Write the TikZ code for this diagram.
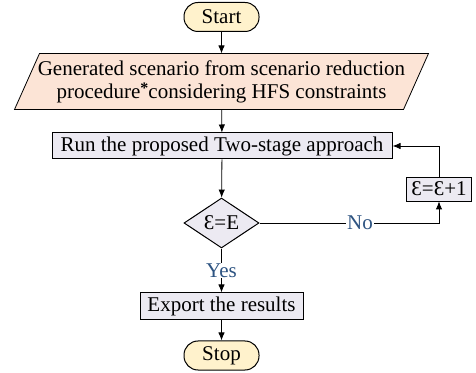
\documentclass[tikz,border=0pt]{standalone}
\usepackage{fontspec}
\setmainfont{Liberation Serif}
\usetikzlibrary{shapes.geometric,arrows.meta,backgrounds}

\definecolor{termfill}{RGB}{255,242,204}
\definecolor{iofill}{RGB}{252,228,214}
\definecolor{procfill}{RGB}{236,234,242}
\definecolor{lblblue}{RGB}{46,84,130}

\tikzset{
	term/.style={draw, fill=termfill, rounded corners=7pt, minimum width=37.5pt, minimum height=14.5pt, inner sep=0pt},
	iotext/.style={minimum width=206.5pt, minimum height=27.5pt, inner sep=0pt, align=center},
	iobox/.style={draw, fill=iofill},
	procbox/.style={draw, fill=procfill, minimum height=13pt, inner sep=0pt},
	decision/.style={draw, fill=procfill, diamond, aspect=1.5, minimum width=37.5pt, minimum height=25pt, inner sep=0pt},
	lbl/.style={text=lblblue, fill=white, inner sep=0.5pt},
	flow/.style={->}
}

\begin{document}
\begin{tikzpicture}[x=0.5pt, y=-0.5pt, font=\fontsize{10.5}{11.5}\selectfont, line width=0.5pt, >={Latex[length=4pt,width=3.2pt]}]
		\useasboundingbox (0,0) rectangle (476,373);

		% Main column
		\node[term] (start) at (221.5,17) {Start};
		\node[iotext] (input) at (221.5,81.5) {Generated scenario from scenario reduction\\procedure\raisebox{2.5pt}{\fontsize{8}{8}\selectfont\textbf{*}}considering HFS constraints};
		\node[procbox, minimum width=170pt] (run) at (222,146) {Run the proposed Two-stage approach};
		\node[decision] (check) at (221.5,223) {Ɛ=E};
		\node[procbox, minimum width=81.5pt, minimum height=13.5pt] (export) at (221.5,306.5) {Export the results};
		\node[term] (stop) at (221.5,355.5) {Stop};

		% Parallelogram behind the input text
		\begin{pgfonlayer}{background}
			\draw[iobox] ([xshift=12.5pt]input.north west) -- (input.north east) -- ([xshift=-12.5pt]input.south east) -- (input.south west) -- cycle;
		\end{pgfonlayer}

		% Loop box
		\node[procbox, minimum width=32.5pt, minimum height=12pt] (incr) at (439,189) {Ɛ=Ɛ+1};
		\coordinate (turn) at (incr.south |- check.east);

		% Connecting lines
		\draw[flow] (start) -- (input);
		\draw[flow] (input) -- (run);
		\draw[flow] (run) -- (check);
		\draw[flow] (check) -- node[lbl] {Yes} (export);
		\draw[flow] (export) -- (stop);
		\draw[flow] (check.east) -- node[lbl, pos=0.56] {No} (turn) -- (incr.south);
		\draw[flow] (incr.north) |- (run.east);
	\end{tikzpicture}
\end{document}
